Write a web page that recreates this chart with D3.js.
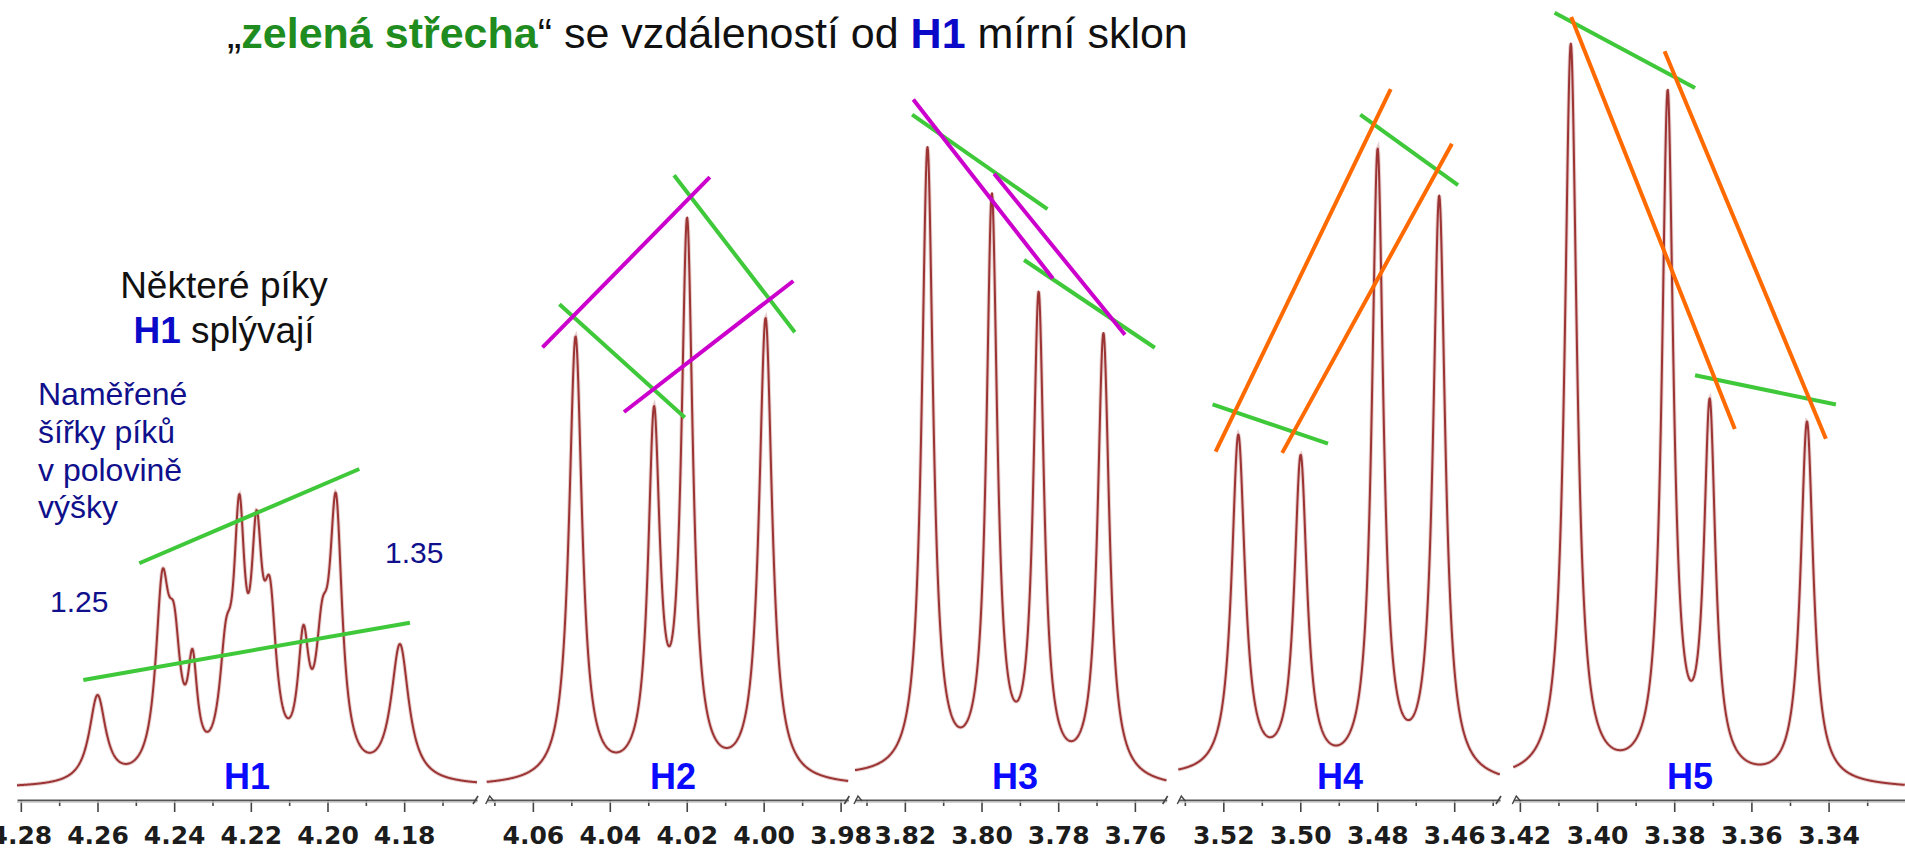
<!DOCTYPE html>
<html>
<head>
<meta charset="utf-8">
<script src="https://cdn.jsdelivr.net/npm/d3@7"></script>
<style>
  body { margin: 0; background: #fff; overflow: hidden; }
  svg { display: block; }
</style>
</head>
<body>
<svg id="chart" width="1905" height="850"></svg>
<script>
// ---- spectral windows (ppm) -------------------------------------------
const segDomains = [[4.281, 4.161], [4.072, 3.978], [3.833, 3.7517], [3.5317, 3.4481], [3.4217, 3.3202]];
const segNames = ["H1", "H2", "H3", "H4", "H5"];
// linear baseline offset at the left / right edge of each window
const segBaseline = [[0.2, 0.4], [0.4, 0.4], [1.6, 0.2], [1.6, 0.6], [1.2, 0.2]];

// ---- peak tables: shift (ppm), apparent top intensity, line width (ppm)
const h1Shifts  = [4.2600, 4.2431, 4.2400, 4.2352, 4.2265, 4.2230, 4.2185, 4.2150, 4.2063, 4.2014, 4.1978, 4.1811];
const h1Heights = [12.67, 29.33, 24.67, 18.8, 22.67, 39.47, 37.33, 28.27, 22.0, 25.33, 39.6, 19.47];
const h1Widths  = [0.0052, 0.0042, 0.0040, 0.0030, 0.0040, 0.0035, 0.0035, 0.0040, 0.0035, 0.0040, 0.0040, 0.0056];

const h2Shifts  = [4.0489, 4.0285, 4.0199, 4.0122, 3.9995];
const h2Heights = [60.49, 51.2, 76.35, 6.4, 62.95];
const h2Widths  = [0.0041, 0.0037, 0.0036, 0.0040, 0.0041];

const h3Shifts  = [3.8141, 3.7973, 3.7851, 3.7682];
const h3Heights = [85.75, 79.6, 66.48, 60.95];
const h3Widths  = [0.0036, 0.0034, 0.0034, 0.0037];

const h4Shifts  = [3.5161, 3.4999, 3.4799, 3.4639];
const h4Heights = [47.41, 44.71, 85.56, 79.28];
const h4Widths  = [0.0042, 0.0040, 0.0036, 0.0038];

const h5Shifts  = [3.4068, 3.3817, 3.3708, 3.3456];
const h5Heights = [99.53, 93.39, 52.23, 49.15];
const h5Widths  = [0.0038, 0.0036, 0.0036, 0.0040];

// ---- roof-effect guide lines: [window, ppm1, intensity1, ppm2, intensity2]
const greenLines = [
  [0, 4.2491, 30.23, 4.1917, 42.80],
  [0, 4.2637, 14.67, 4.1785, 22.31],
  [1, 4.0531, 64.76, 4.0205, 49.67],
  [1, 4.0233, 81.97, 3.9919, 61.04],
  [2, 3.8181, 90.05, 3.7828, 77.44],
  [2, 3.7889, 70.67, 3.7548, 58.97],
  [3, 3.5228, 51.41, 3.4928, 46.17],
  [3, 3.4844, 90.05, 3.4590, 80.64],
  [4, 3.4110, 103.63, 3.3746, 93.60],
  [4, 3.3746, 55.29, 3.3381, 51.40]
];
const magentaLines = [
  [1, 4.0575, 59.01, 4.0140, 81.71],
  [1, 4.0363, 50.40, 3.9923, 67.87],
  [2, 3.8178, 92.08, 3.7814, 68.21],
  [2, 3.7967, 82.17, 3.7626, 60.69]
];
const orangeLines = [
  [3, 3.5220, 45.13, 3.4765, 93.44],
  [3, 3.5047, 44.95, 3.4606, 86.17],
  [4, 3.4067, 103.08, 3.3643, 48.13],
  [4, 3.3825, 98.51, 3.3407, 46.83]
];

// ---- layout --------------------------------------------------------------
const segRanges = [[17, 477], [486.7, 848.3], [855, 1166.7], [1178.3, 1500], [1513.3, 1905]];
const axisY = 800;
const segLabelX = [247, 673, 1015, 1340, 1690];

const svg = d3.select("#chart");
const y = d3.scaleLinear().domain([0, 100]).range([790, 40]);
const xs = segDomains.map((d, i) => d3.scaleLinear().domain(d).range(segRanges[i]));

const peaks = [
  { shifts: h1Shifts, heights: h1Heights, widths: h1Widths },
  { shifts: h2Shifts, heights: h2Heights, widths: h2Widths },
  { shifts: h3Shifts, heights: h3Heights, widths: h3Widths },
  { shifts: h4Shifts, heights: h4Heights, widths: h4Widths },
  { shifts: h5Shifts, heights: h5Heights, widths: h5Widths }
];

// Lorentzian line shape, unit height
const lorentz = (dx, w) => { const t = 2 * dx / w; return 1 / (1 + t * t); };

const curveLayer = svg.append("g");
const line = d3.line().x(d => d[0]).y(d => d[1]);

peaks.forEach((pk, i) => {
  const xsc = xs[i];
  const [d0, d1] = segDomains[i];
  const [b0, b1] = segBaseline[i];
  const base = p => b0 + (b1 - b0) * (p - d0) / (d1 - d0);
  const n = pk.shifts.length;
  // amplitudes so that the summed spectrum reaches each listed top height
  const amp = pk.heights.map((h, k) => h - base(pk.shifts[k]));
  for (let it = 0; it < 400; it++) {
    for (let k = 0; k < n; k++) {
      let other = 0;
      for (let j = 0; j < n; j++) if (j !== k) other += amp[j] * lorentz(pk.shifts[k] - pk.shifts[j], pk.widths[j]);
      amp[k] = Math.max(0, pk.heights[k] - base(pk.shifts[k]) - other);
    }
  }
  const [r0, r1] = segRanges[i];
  const pts = d3.range(r0, r1 + 0.01, 0.5).map(px => {
    const p = xsc.invert(px);
    let v = base(p);
    for (let j = 0; j < n; j++) v += amp[j] * lorentz(p - pk.shifts[j], pk.widths[j]);
    return [xsc(p), y(v)];
  });
  curveLayer.append("path").attr("d", line(pts))
    .attr("fill", "none").attr("stroke", "#d6aaaa").attr("stroke-width", 4).attr("stroke-opacity", 0.55);
  curveLayer.append("path").attr("d", line(pts))
    .attr("fill", "none").attr("stroke", "#9c3434").attr("stroke-width", 2).attr("stroke-linejoin", "round");
});

// ---- ppm axes, one per window -------------------------------------------
xs.forEach((sc, i) => {
  const [d0, d1] = segDomains[i];
  const vals = d3.range(Math.ceil(d1 * 100 - 1e-6), Math.floor(d0 * 100 + 1e-6) + 1).map(v => v / 100);
  const isMajor = v => Math.round(v * 100) % 2 === 0;
  const g = svg.append("g").attr("transform", `translate(0,${axisY})`)
    .call(d3.axisBottom(sc).tickValues(vals).tickSizeInner(12).tickSizeOuter(0)
      .tickFormat(v => isMajor(v) ? v.toFixed(2) : ""));
  g.select(".domain").attr("stroke", "#555").attr("stroke-width", 2.2);
  g.selectAll(".tick line").attr("stroke", "#444").attr("stroke-width", 1.6)
    .filter(v => !isMajor(v)).attr("y2", 6);
  g.selectAll(".tick text")
    .attr("y", 26).attr("dy", "0.71em")
    .attr("fill", "#1c1c1c")
    .attr("font-family", "'DejaVu Sans', Verdana, sans-serif")
    .attr("font-weight", "bold").attr("font-size", 25);
  // light shadow under the axis line
  const [r0, r1] = segRanges[i];
  svg.append("line").attr("x1", r0).attr("x2", r1).attr("y1", axisY + 2).attr("y2", axisY + 2)
    .attr("stroke", "#c4c4c4").attr("stroke-width", 1.4);
  // break marks between windows
  if (i < xs.length - 1) {
    svg.append("path").attr("d", `M${r1 - 4},${axisY + 4} L${r1 + 1},${axisY - 4}`)
      .attr("stroke", "#444").attr("stroke-width", 1.6).attr("fill", "none");
  }
  if (i > 0) {
    svg.append("path").attr("d", `M${r0 - 1},${axisY + 4} L${r0 + 3},${axisY - 4} L${r0 + 7},${axisY + 1}`)
      .attr("stroke", "#444").attr("stroke-width", 1.4).attr("fill", "none");
  }
});

// ---- guide lines ----------------------------------------------------------
const guides = svg.append("g");
function drawGuides(list, color) {
  guides.selectAll(null).data(list).enter().append("line")
    .attr("x1", d => xs[d[0]](d[1])).attr("y1", d => y(d[2]))
    .attr("x2", d => xs[d[0]](d[3])).attr("y2", d => y(d[4]))
    .attr("stroke", color).attr("stroke-width", 4);
}
drawGuides(greenLines, "#3fc93a");
drawGuides(magentaLines, "#cc00cc");
drawGuides(orangeLines, "#ff6a00");

// ---- window names ----------------------------------------------------------
svg.append("g").selectAll("text").data(segNames).enter().append("text")
  .attr("x", (d, i) => segLabelX[i]).attr("y", 789)
  .attr("text-anchor", "middle")
  .attr("font-family", "'Liberation Sans', Arial, sans-serif")
  .attr("font-weight", "bold").attr("font-size", 36)
  .attr("fill", "#0a0aff")
  .text(d => d);

// ---- title ---------------------------------------------------------------
const sans = "'Liberation Sans', Arial, sans-serif";
const title = svg.append("text").attr("x", 227).attr("y", 48)
  .attr("font-family", sans).attr("font-size", 43).attr("fill", "#111");
title.append("tspan").text("„");
title.append("tspan").attr("font-weight", "bold").attr("fill", "#1f8c1f").text("zelená střecha");
title.append("tspan").text("“ se vzdáleností od ");
title.append("tspan").attr("font-weight", "bold").attr("fill", "#0a0ac8").text("H1");
title.append("tspan").text(" mírní sklon");

// ---- notes on the left -----------------------------------------------------
svg.append("text").attr("x", 224).attr("y", 298).attr("text-anchor", "middle")
  .attr("font-family", sans).attr("font-size", 37).attr("fill", "#111").text("Některé píky");
const merge = svg.append("text").attr("x", 224).attr("y", 343).attr("text-anchor", "middle")
  .attr("font-family", sans).attr("font-size", 37).attr("fill", "#111");
merge.append("tspan").attr("font-weight", "bold").attr("fill", "#0a0ac8").text("H1");
merge.append("tspan").text(" splývají");

const noteLines = ["Naměřené", "šířky píků", "v polovině", "výšky"];
svg.append("g").selectAll("text").data(noteLines).enter().append("text")
  .attr("x", 38).attr("y", (d, i) => 405 + i * 37.8)
  .attr("font-family", sans).attr("font-size", 32).attr("fill", "#10108c")
  .text(d => d);

const widthNotes = [["1.25", 50, 612], ["1.35", 385, 563]];
svg.append("g").selectAll("text").data(widthNotes).enter().append("text")
  .attr("x", d => d[1]).attr("y", d => d[2])
  .attr("font-family", sans).attr("font-size", 30).attr("fill", "#10108c")
  .text(d => d[0]);
</script>
</body>
</html>
